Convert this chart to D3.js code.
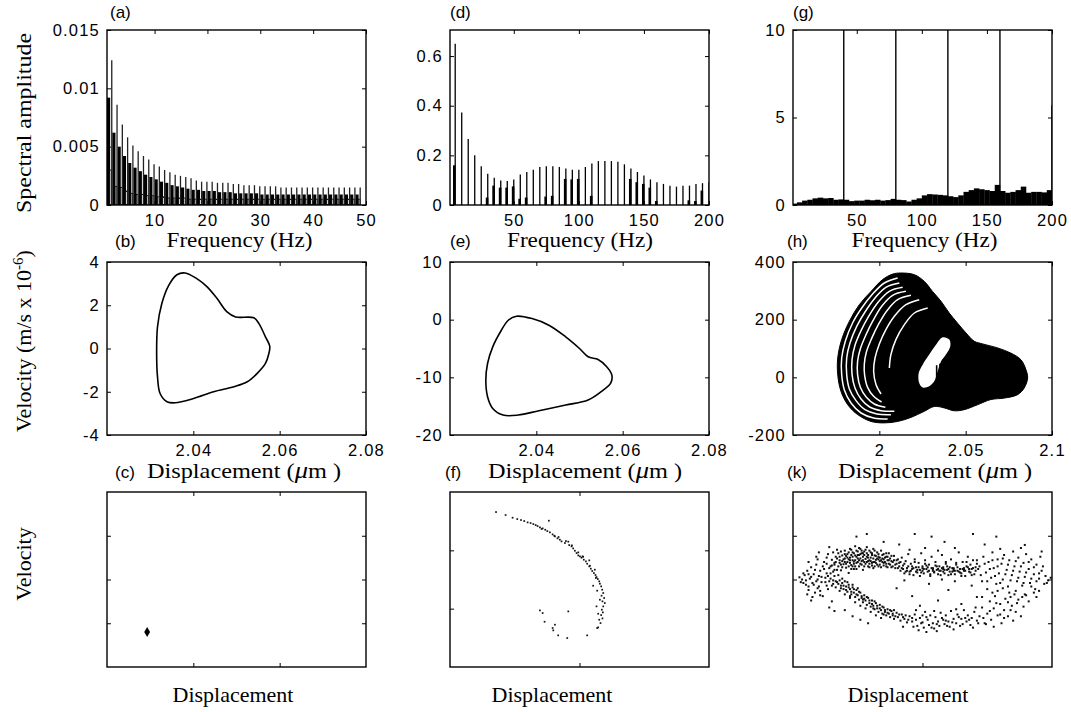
<!DOCTYPE html>
<html>
<head>
<meta charset="utf-8">
<script src="https://cdn.jsdelivr.net/npm/d3@7"></script>
<style>
  body { margin: 0; background: #fff; }
</style>
</head>
<body>
<svg id="fig" width="1071" height="712"></svg>
<script>
// ── Data ─────────────────────────────────────────────────────────────────────

// (a) spectrum, periodic response: harmonic lines, black side bars, low outlined bars
const aHz = [1.9, 2.9, 3.9, 4.9, 5.9, 6.9, 7.9, 8.9, 9.9, 10.9, 11.9, 12.9, 13.9, 14.9, 15.9, 16.9,
  17.9, 18.9, 19.9, 20.9, 21.9, 22.9, 23.9, 24.9, 25.9, 26.9, 27.9, 28.9, 29.9, 30.9, 31.9, 32.9,
  33.9, 34.9, 35.9, 36.9, 37.9, 38.9, 39.9, 40.9, 41.9, 42.9, 43.9, 44.9, 45.9, 46.9, 47.9, 48.9];
const aPeak = [0.0124, 0.0086, 0.0069, 0.0058, 0.0051, 0.0046, 0.0042, 0.0039, 0.0035, 0.0033, 0.0030, 0.0028,
  0.0026, 0.0025, 0.0024, 0.0023, 0.0021, 0.0020, 0.0020, 0.0020, 0.0019, 0.0019, 0.0019, 0.0018,
  0.0018, 0.0017, 0.0017, 0.0017, 0.0016, 0.0016, 0.0016, 0.0016, 0.0015, 0.0015, 0.0015, 0.0015,
  0.0015, 0.0015, 0.0015, 0.0015, 0.0015, 0.0015, 0.0015, 0.0015, 0.0015, 0.0015, 0.0015, 0.0015];
const aMid = [0.0092, 0.0062, 0.0050, 0.0042, 0.0036, 0.0032, 0.0029, 0.0026, 0.0024, 0.0022, 0.0020, 0.0019,
  0.0017, 0.0016, 0.0015, 0.0014, 0.0013, 0.0013, 0.0012, 0.0012, 0.0012, 0.0011, 0.0011, 0.0011,
  0.0010, 0.0010, 0.0010, 0.0010, 0.0010, 0.0009, 0.0009, 0.0009, 0.0009, 0.0009, 0.0009, 0.0009,
  0.0009, 0.0009, 0.0009, 0.0009, 0.0009, 0.0009, 0.0009, 0.0009, 0.0009, 0.0009, 0.0009, 0.0009];
const aLow = [0.0030, 0.0016, 0.0015, 0.0012, 0.0010, 0.0009, 0.0009, 0.0008, 0.0008, 0.0007, 0.0007, 0.0006,
  0.0006, 0.0006, 0.0006, 0.0005, 0.0005, 0.0005, 0.0005, 0.0005, 0.0005, 0.0005, 0.0005, 0.0005,
  0.0005, 0.0005, 0.0005, 0.0005, 0.0005, 0.0005, 0.0005, 0.0005, 0.0005, 0.0005, 0.0005, 0.0005,
  0.0005, 0.0005, 0.0005, 0.0005, 0.0005, 0.0005, 0.0005, 0.0005, 0.0005, 0.0005, 0.0005, 0.0005];

// (d) spectrum, period-doubled response
const dHz = [5, 10, 15, 20, 25, 30, 35, 40, 45, 50, 55, 60, 65, 70, 75, 80, 85, 90, 95, 100,
  105, 110, 115, 120, 125, 130, 135, 140, 145, 150, 155, 160, 165, 170, 175, 180, 185, 190, 195, 200];
const dAmp = [0.650, 0.373, 0.266, 0.200, 0.156, 0.126, 0.110, 0.099, 0.097, 0.103,
  0.123, 0.133, 0.142, 0.153, 0.156, 0.156, 0.153, 0.147, 0.142, 0.142,
  0.153, 0.167, 0.177, 0.177, 0.177, 0.174, 0.164, 0.147, 0.133, 0.119,
  0.103, 0.092, 0.085, 0.078, 0.074, 0.078, 0.078, 0.085, 0.088, 0.092];
const dSideHz = [4.3, 29.5, 34.5, 39.5, 44.5, 49.5, 54.5, 59.5, 74.5, 79.5, 89.5, 94.5, 99.5,
  109.5, 139.5, 144.5, 149.5, 154.5, 159.5, 184.5, 189.5, 194.5];
const dSideAmp = [0.160, 0.030, 0.078, 0.070, 0.070, 0.075, 0.025, 0.030, 0.034, 0.037, 0.105, 0.103, 0.105,
  0.037, 0.105, 0.092, 0.085, 0.070, 0.016, 0.019, 0.016, 0.058];

// (g) spectrum, chaotic response: broadband floor + discrete lines
const gFloorHz = [2, 6, 10, 14, 18, 22, 26, 30, 34, 38, 42, 46, 50, 54, 58, 62, 66, 70, 74, 78,
  82, 86, 90, 94, 98, 102, 106, 110, 114, 118, 122, 126, 130, 134, 138, 142, 146, 150, 154, 158,
  162, 166, 170, 174, 178, 182, 186, 190, 194, 198];
const gFloorAmp = [0.08, 0.15, 0.25, 0.30, 0.38, 0.42, 0.38, 0.40, 0.30, 0.32,
  0.30, 0.22, 0.25, 0.25, 0.30, 0.27, 0.30, 0.25, 0.28, 0.35,
  0.30, 0.28, 0.20, 0.30, 0.38, 0.55, 0.62, 0.60, 0.58, 0.55,
  0.50, 0.45, 0.55, 0.75, 0.85, 0.95, 0.90, 0.85, 0.80, 1.15,
  0.80, 0.70, 0.75, 0.85, 1.05, 0.70, 0.75, 0.75, 0.72, 0.85];
const gLineHz = [40, 80, 120, 160, 200];
const gLineAmp = [12, 12, 12, 12, 5.7];

// (b) phase portrait, displacement (um) / velocity (1e-6 m/s)
const bLoop = [[2.0381, 3.49], [2.0408, 3.23], [2.0432, 2.85], [2.0455, 2.31], [2.0478, 1.69], [2.0498, 1.46],
  [2.0540, 1.42], [2.0552, 1.15], [2.0567, 0.54], [2.0577, 0.11], [2.0575, -0.23], [2.0567, -0.69],
  [2.0548, -1.15], [2.0525, -1.54], [2.0494, -1.77], [2.0447, -2.00], [2.0401, -2.31], [2.0358, -2.51],
  [2.0339, -2.46], [2.0323, -2.08], [2.0317, -1.31], [2.0315, -0.23], [2.0317, 1.00], [2.0327, 2.08],
  [2.0343, 2.92], [2.0362, 3.41]];

// (e) phase portrait
const eLoop = [[2.0354, 0.60], [2.0390, 0.19], [2.0429, -0.96], [2.0468, -2.98], [2.0500, -5.00], [2.0520, -6.44],
  [2.0543, -6.91], [2.0563, -8.17], [2.0575, -9.62], [2.0572, -11.06], [2.0555, -12.21], [2.0520, -13.94],
  [2.0468, -14.81], [2.0406, -15.79], [2.0358, -16.54], [2.0323, -16.54], [2.0299, -15.39], [2.0287, -13.36],
  [2.0283, -10.48], [2.0287, -7.60], [2.0299, -4.71], [2.0319, -1.83], [2.0335, -0.10]];

// (h) chaotic attractor: outer envelope, inner hole, white gaps between orbit bands
const hOutline = [[2.0125, 361.8], [2.0203, 356], [2.0260, 333], [2.0308, 298], [2.0357, 264], [2.0405, 223],
  [2.0453, 188], [2.0502, 154], [2.0550, 125], [2.0598, 116], [2.0685, 102], [2.0762, 84], [2.0820, 61],
  [2.0849, 27], [2.0859, -2], [2.0839, -37], [2.0801, -60], [2.0724, -72], [2.0646, -77], [2.0569, -95],
  [2.0492, -112], [2.0434, -116], [2.0376, -106], [2.0318, -101], [2.0260, -118], [2.0183, -139],
  [2.0106, -153], [2.0029, -158], [1.9952, -153], [1.9874, -129], [1.9817, -95], [1.9778, -49],
  [1.9759, 9], [1.9759, 67], [1.9782, 131], [1.9826, 194], [1.9884, 252], [1.9952, 298], [2.0019, 339],
  [2.0077, 358]];
const hHole = [[2.0367, 139], [2.0405, 131], [2.0411, 108], [2.0386, 79], [2.0357, 55], [2.0338, 21],
  [2.0318, -14], [2.0289, -31], [2.0251, -35], [2.0231, -20], [2.0228, 15], [2.0251, 44], [2.0289, 79],
  [2.0328, 113]];
const hHoleBars = [
  [[2.0332, 42], [2.0332, -25]],
  [[2.0351, 47], [2.0351, -22]]
];
const hGaps = [
  [[2.0106, 344.5], [2.0029, 327.2], [1.9961, 289.0], [1.9898, 240.5], [1.9845, 188.5], [1.9803, 124.9],
    [1.9782, 67.1], [1.9782, 9.3], [1.9797, -42.7], [1.9836, -89.0], [1.9894, -123.7], [1.9967, -141.0], [2.0048, -144.5]],
  [[2.0116, 327.2], [2.0038, 312.1], [1.9975, 275.2], [1.9917, 226.6], [1.9869, 176.9], [1.9830, 119.1],
    [1.9811, 67.1], [1.9811, 9.3], [1.9826, -39.3], [1.9865, -80.9], [1.9917, -112.1], [1.9986, -127.1], [2.0067, -129.4]],
  [[2.0135, 312.1], [2.0058, 298.3], [1.9994, 261.3], [1.9938, 211.6], [1.9894, 161.9], [1.9859, 111.0],
    [1.9842, 61.3], [1.9842, 9.3], [1.9859, -37.0], [1.9894, -75.1], [1.9944, -102.9], [2.0010, -115.6], [2.0087, -117.9]],
  [[2.0154, 298.3], [2.0077, 284.4], [2.0015, 247.4], [1.9963, 196.5], [1.9923, 148.0], [1.9890, 99.4],
    [1.9874, 55.5], [1.9874, 9.3], [1.9890, -34.7], [1.9925, -69.3], [1.9971, -92.5], [2.0035, -104.0]],
  [[2.0183, 284.4], [2.0106, 269.4], [2.0044, 231.2], [1.9994, 182.7], [1.9955, 134.1], [1.9925, 87.9],
    [1.9913, 46.3], [1.9915, 7.0], [1.9932, -34.7], [1.9967, -65.9], [2.0013, -85.5]],
  [[2.0231, 269.4], [2.0154, 252.0], [2.0087, 211.6], [2.0038, 165.3], [2.0000, 115.6], [1.9975, 67.1],
    [1.9967, 20.8], [1.9981, -25.4], [2.0010, -57.8]],
  [[2.0280, 240.5], [2.0203, 223.1], [2.0145, 182.7], [2.0096, 130.7], [2.0067, 78.6], [2.0058, 32.4]]
];

// (c) Poincare section, periodic: a single point
const cPts = [[2.0293, -2.4]];

// (f) Poincare section, period-doubled (arbitrary units)
const fPts = [[0.355, 2.657], [0.429, 2.606], [0.483, 2.560], [0.519, 2.537], [0.548, 2.520], [0.573, 2.503],
  [0.599, 2.480], [0.622, 2.469], [0.643, 2.451], [0.661, 2.434], [0.676, 2.417], [0.694, 2.394],
  [0.715, 2.377], [0.735, 2.354], [0.763, 2.509], [0.751, 2.331], [0.771, 2.309], [0.792, 2.274],
  [0.810, 2.240], [0.830, 2.206], [0.848, 2.183], [0.838, 2.229], [0.861, 2.154], [0.887, 2.126],
  [0.913, 2.149], [0.920, 2.091], [0.938, 2.069], [0.951, 2.034], [0.964, 1.994], [0.977, 1.954],
  [0.990, 1.914], [1.003, 1.897], [1.015, 1.874], [1.028, 1.891], [1.033, 1.840], [1.049, 1.811],
  [1.059, 1.771], [1.075, 1.726], [1.087, 1.686], [1.098, 1.646], [1.111, 1.611], [1.123, 1.577],
  [1.131, 1.543], [1.141, 1.509], [1.152, 1.469], [1.157, 1.429], [1.167, 1.383], [1.175, 1.326],
  [1.183, 1.269], [1.170, 1.223], [1.190, 1.183], [1.177, 1.126], [1.195, 1.097], [1.183, 1.040],
  [1.172, 0.983], [1.180, 0.937], [1.167, 0.891], [1.177, 0.834], [1.152, 0.811], [1.162, 0.754],
  [1.144, 0.680], [1.136, 0.669], [1.105, 1.394], [1.126, 1.526], [1.075, 1.829], [1.023, 1.897],
  [0.990, 1.966], [0.941, 2.086], [0.895, 2.160], [0.805, 2.251], [0.707, 2.366], [0.694, 0.971],
  [0.715, 0.926], [0.730, 0.777], [0.810, 0.726], [0.792, 0.669], [0.797, 0.629], [0.835, 0.543],
  [0.905, 0.497], [1.059, 0.543], [0.913, 0.954], [1.136, 1.309], [1.118, 1.669], [1.080, 1.737],
  [1.157, 1.154], [1.144, 0.914], [1.131, 1.040]];

// (k) Poincare section, chaotic (arbitrary units)
const kPts = [
  // dense upper-left band
  [0.30, 2.45], [0.32, 2.38], [0.33, 2.52], [0.35, 2.30], [0.35, 2.60], [0.36, 2.44], [0.37, 2.21], [0.38, 2.55], [0.39, 2.35], [0.40, 2.66],
  [0.40, 2.48], [0.41, 2.27], [0.42, 2.58], [0.42, 2.40], [0.43, 2.15], [0.44, 2.70], [0.44, 2.50], [0.45, 2.33], [0.46, 2.62], [0.46, 2.44],
  [0.47, 2.24], [0.48, 2.55], [0.48, 2.76], [0.49, 2.38], [0.50, 2.64], [0.50, 2.48], [0.51, 2.30], [0.52, 2.58], [0.52, 2.70], [0.53, 2.42],
  [0.54, 2.52], [0.54, 2.22], [0.55, 2.64], [0.56, 2.36], [0.56, 2.47], [0.57, 2.74], [0.58, 2.56], [0.58, 2.30], [0.59, 2.44], [0.60, 2.62],
  [0.60, 2.50], [0.61, 2.38], [0.62, 2.70], [0.62, 2.26], [0.63, 2.55], [0.64, 2.45], [0.65, 2.62], [0.65, 2.34], [0.66, 2.52], [0.67, 2.42],
  [0.68, 2.66], [0.68, 2.28], [0.69, 2.48], [0.70, 2.58], [0.70, 2.38], [0.71, 2.50], [0.72, 2.30], [0.73, 2.44], [0.74, 2.60], [0.74, 2.36],
  [0.75, 2.48], [0.76, 2.28], [0.77, 2.40], [0.78, 2.54], [0.79, 2.34], [0.80, 2.44], [0.81, 2.26], [0.82, 2.38], [0.34, 2.48], [0.38, 2.42],
  [0.41, 2.54], [0.43, 2.46], [0.45, 2.56], [0.47, 2.41], [0.49, 2.52], [0.51, 2.44], [0.53, 2.60], [0.55, 2.40], [0.57, 2.52], [0.59, 2.36],
  [0.61, 2.56], [0.63, 2.40], [0.66, 2.46], [0.69, 2.40], [0.72, 2.52], [0.76, 2.42], [0.44, 2.38], [0.48, 2.30], [0.52, 2.36], [0.58, 2.42],
  [0.26, 2.36], [0.27, 2.58], [0.29, 2.30], [0.31, 2.62], [0.32, 2.22], [0.33, 2.40], [0.34, 2.68], [0.36, 2.52], [0.37, 2.34], [0.37, 2.64],
  [0.38, 2.28], [0.39, 2.46], [0.40, 2.58], [0.41, 2.36], [0.42, 2.50], [0.43, 2.30], [0.43, 2.62], [0.44, 2.44], [0.45, 2.24], [0.45, 2.68],
  [0.46, 2.52], [0.47, 2.36], [0.47, 2.60], [0.48, 2.44], [0.49, 2.24], [0.49, 2.66], [0.50, 2.40], [0.51, 2.56], [0.51, 2.72], [0.52, 2.48],
  [0.53, 2.34], [0.53, 2.66], [0.54, 2.44], [0.55, 2.56], [0.55, 2.30], [0.56, 2.68], [0.57, 2.40], [0.57, 2.60], [0.58, 2.50], [0.59, 2.28],
  [0.59, 2.66], [0.60, 2.42], [0.61, 2.60], [0.61, 2.32], [0.62, 2.48], [0.63, 2.66], [0.63, 2.30], [0.64, 2.54], [0.64, 2.38], [0.65, 2.48],
  [0.66, 2.30], [0.66, 2.58], [0.67, 2.50], [0.67, 2.34], [0.68, 2.44], [0.69, 2.56], [0.70, 2.32], [0.70, 2.46], [0.71, 2.40], [0.72, 2.60],
  [0.72, 2.36], [0.73, 2.28], [0.73, 2.52], [0.74, 2.44], [0.75, 2.34], [0.76, 2.54], [0.77, 2.30], [0.78, 2.44], [0.79, 2.26], [0.80, 2.36],
  [0.81, 2.46], [0.82, 2.30], [0.83, 2.40], [0.84, 2.26], [0.36, 2.38], [0.40, 2.40], [0.46, 2.30], [0.50, 2.56], [0.54, 2.60], [0.62, 2.40],
  // left end
  [0.07, 2.00], [0.09, 2.10], [0.10, 1.88], [0.11, 2.20], [0.12, 1.76], [0.13, 2.02], [0.14, 2.28], [0.15, 1.92], [0.16, 2.12], [0.17, 1.70],
  [0.18, 2.34], [0.19, 2.00], [0.20, 1.84], [0.21, 2.20], [0.22, 2.06], [0.23, 1.62], [0.24, 2.40], [0.25, 1.94], [0.26, 2.14], [0.27, 1.78],
  [0.28, 2.26], [0.29, 2.02], [0.30, 1.86], [0.31, 2.18], [0.32, 2.08], [0.33, 1.96], [0.34, 2.22], [0.35, 2.10], [0.12, 2.12], [0.15, 1.60],
  [0.18, 1.96], [0.21, 1.74], [0.24, 2.24], [0.27, 2.08], [0.30, 2.32], [0.08, 1.92], [0.05, 2.05], [0.19, 2.46], [0.26, 2.50], [0.14, 1.52],
  [0.08, 2.14], [0.10, 1.98], [0.12, 1.84], [0.14, 2.06], [0.16, 1.88], [0.17, 2.22], [0.19, 1.80], [0.20, 2.08], [0.22, 1.94], [0.23, 2.30],
  [0.25, 2.04], [0.26, 1.86], [0.28, 1.96], [0.29, 2.14], [0.31, 1.90], [0.32, 2.34], [0.06, 1.94], [0.11, 1.66], [0.21, 1.64], [0.18, 2.52],
  // lower arm
  [0.36, 1.98], [0.37, 1.86], [0.38, 1.92], [0.39, 1.78], [0.40, 1.96], [0.41, 1.84], [0.42, 1.72], [0.43, 1.88], [0.44, 1.78], [0.45, 1.66],
  [0.46, 1.82], [0.47, 1.70], [0.48, 1.60], [0.49, 1.76], [0.50, 1.64], [0.51, 1.54], [0.52, 1.70], [0.53, 1.58], [0.54, 1.48], [0.55, 1.64],
  [0.56, 1.52], [0.57, 1.42], [0.58, 1.58], [0.59, 1.46], [0.60, 1.38], [0.61, 1.52], [0.62, 1.40], [0.63, 1.32], [0.64, 1.46], [0.65, 1.34],
  [0.66, 1.26], [0.67, 1.42], [0.68, 1.30], [0.69, 1.22], [0.70, 1.36], [0.71, 1.26], [0.72, 1.18], [0.73, 1.32], [0.74, 1.22], [0.75, 1.14],
  [0.76, 1.28], [0.77, 1.18], [0.78, 1.10], [0.80, 1.24], [0.81, 1.14], [0.83, 1.06], [0.84, 1.20], [0.86, 1.10], [0.88, 1.02], [0.90, 1.16],
  [0.40, 1.66], [0.44, 1.58], [0.48, 1.48], [0.52, 1.40], [0.56, 1.34], [0.60, 1.26], [0.64, 1.18], [0.68, 1.12], [0.36, 1.74], [0.33, 1.82],
  [0.30, 1.50], [0.28, 1.36], [0.32, 1.28], [0.40, 1.30], [0.46, 1.16], [0.52, 1.08], [0.58, 1.00],
  [0.35, 1.90], [0.37, 1.80], [0.39, 1.86], [0.41, 1.76], [0.43, 1.82], [0.45, 1.72], [0.47, 1.78], [0.49, 1.66], [0.51, 1.72], [0.53, 1.62],
  [0.55, 1.56], [0.57, 1.60], [0.59, 1.52], [0.61, 1.44], [0.63, 1.50], [0.65, 1.40], [0.67, 1.34], [0.69, 1.38], [0.71, 1.30], [0.73, 1.24],
  [0.75, 1.30], [0.77, 1.22], [0.79, 1.16], [0.82, 1.20], [0.85, 1.14], [0.87, 1.18], [0.89, 1.08], [0.42, 1.94], [0.46, 1.88], [0.50, 1.80],
  [0.38, 2.02], [0.34, 1.94], [0.31, 1.98], [0.44, 1.62], [0.54, 1.54], [0.62, 1.34], [0.70, 1.20], [0.78, 1.30], [0.92, 1.12], [0.95, 1.08],
  // bottom
  [0.92, 1.04], [0.94, 1.20], [0.96, 0.94], [0.98, 1.12], [1.00, 1.02], [1.01, 0.90], [1.02, 1.26], [1.04, 1.08], [1.05, 0.96], [1.06, 1.18],
  [1.08, 1.00], [1.09, 0.88], [1.10, 1.14], [1.12, 1.04], [1.13, 0.94], [1.14, 1.24], [1.16, 1.08], [1.17, 0.98], [1.18, 1.18], [1.20, 1.04],
  [1.21, 0.92], [1.22, 1.28], [1.24, 1.10], [1.26, 1.00], [1.27, 1.20], [1.29, 0.94], [1.30, 1.10], [1.32, 1.30], [1.34, 1.04], [1.35, 1.18],
  [1.37, 0.96], [1.38, 1.12], [1.40, 1.26], [1.42, 1.06], [1.44, 1.16], [0.97, 0.84], [1.03, 0.80], [1.11, 0.82], [0.85, 0.92], [1.24, 0.86],
  [0.93, 0.92], [0.99, 1.00], [1.03, 1.14], [1.07, 0.90], [1.11, 0.98], [1.15, 1.12], [1.19, 0.94], [1.23, 1.02], [1.28, 1.14], [1.31, 0.98],
  [1.36, 1.08], [1.39, 0.90], [1.43, 1.00], [0.95, 1.30], [1.09, 1.28], [1.26, 1.32], [1.41, 1.36], [1.00, 1.18], [1.18, 1.06], [1.33, 1.12],
  // lower right
  [1.46, 1.36], [1.48, 1.00], [1.50, 1.22], [1.52, 1.50], [1.53, 1.08], [1.55, 1.34], [1.56, 1.62], [1.58, 1.18], [1.60, 1.44], [1.61, 1.00],
  [1.63, 1.30], [1.64, 1.56], [1.66, 1.16], [1.67, 1.70], [1.69, 1.40], [1.70, 1.06], [1.72, 1.26], [1.74, 1.54], [1.76, 1.16], [1.78, 1.38],
  [1.80, 1.64], [1.62, 1.80], [1.55, 0.92], [1.49, 0.98], [1.58, 1.74],
  [1.46, 1.60], [1.52, 1.28], [1.57, 1.46], [1.63, 1.12], [1.68, 1.30], [1.73, 1.46], [1.77, 1.60], [1.82, 1.50], [1.84, 1.84], [1.88, 1.60],
  [1.47, 1.12], [1.54, 1.70], [1.60, 1.20], [1.66, 1.48], [1.71, 1.66],
  // right
  [1.44, 2.30], [1.46, 1.96], [1.47, 2.52], [1.49, 2.16], [1.50, 1.78], [1.51, 2.40], [1.53, 2.04], [1.54, 2.62], [1.55, 2.26], [1.57, 1.90],
  [1.58, 2.46], [1.59, 2.14], [1.61, 2.36], [1.62, 2.00], [1.63, 2.56], [1.65, 2.22], [1.66, 1.84], [1.67, 2.44], [1.69, 2.10], [1.70, 2.64],
  [1.71, 2.30], [1.73, 1.96], [1.74, 2.50], [1.75, 2.18], [1.77, 1.86], [1.78, 2.38], [1.79, 2.06], [1.80, 2.58], [1.82, 2.24], [1.83, 1.92],
  [1.84, 2.46], [1.86, 2.12], [1.87, 1.78], [1.88, 2.34], [1.90, 2.02], [1.91, 2.52], [1.92, 2.20], [1.94, 1.90], [1.95, 2.08], [1.97, 1.98],
  [1.86, 1.70], [1.90, 1.74], [1.79, 1.66], [1.72, 1.74], [1.68, 1.60], [1.99, 2.04], [1.60, 2.70], [1.76, 2.72], [1.92, 2.64],
  [1.45, 2.10], [1.48, 2.36], [1.50, 1.96], [1.52, 2.24], [1.54, 2.44], [1.56, 2.08], [1.58, 2.30], [1.60, 1.92], [1.62, 2.48], [1.64, 2.12],
  [1.66, 2.34], [1.68, 1.98], [1.70, 2.20], [1.72, 2.42], [1.74, 2.04], [1.76, 2.30], [1.78, 1.92], [1.80, 2.16], [1.82, 2.40], [1.84, 2.02],
  [1.86, 2.28], [1.88, 1.96], [1.90, 2.14], [1.93, 2.30], [1.96, 1.92],
  // central upper band
  [0.83, 2.20], [0.84, 2.50], [0.85, 2.32], [0.86, 2.14], [0.87, 2.42], [0.88, 2.26], [0.89, 2.58], [0.90, 2.18], [0.91, 2.36], [0.92, 2.24],
  [0.93, 2.10], [0.94, 2.46], [0.95, 2.28], [0.96, 2.16], [0.97, 2.38], [0.98, 2.22], [0.99, 2.60], [1.00, 2.30], [1.01, 2.14], [1.02, 2.44],
  [1.03, 2.24], [1.04, 2.18], [1.05, 2.34], [1.06, 2.08], [1.07, 2.52], [1.08, 2.26], [1.09, 2.16], [1.10, 2.40], [1.11, 2.22], [1.12, 2.12],
  [1.13, 2.30], [1.14, 2.20], [1.15, 2.56], [1.16, 2.24], [1.17, 2.14], [1.18, 2.36], [1.19, 2.22], [1.20, 2.10], [1.21, 2.28], [1.22, 2.46],
  [1.23, 2.18], [1.24, 2.26], [1.25, 2.12], [1.26, 2.34], [1.27, 2.20], [1.28, 2.62], [1.29, 2.24], [1.30, 2.14], [1.31, 2.40], [1.32, 2.22],
  [1.33, 2.08], [1.34, 2.30], [1.35, 2.52], [1.36, 2.18], [1.37, 2.34], [1.38, 2.24], [1.39, 2.44], [1.40, 2.12], [1.41, 2.28], [1.42, 2.36],
  [0.88, 2.20], [0.92, 2.30], [0.96, 2.22], [1.00, 2.20], [1.04, 2.28], [1.08, 2.20], [1.12, 2.24], [1.16, 2.18], [1.20, 2.24], [1.24, 2.20],
  [1.28, 2.18], [1.32, 2.26], [1.36, 2.24], [0.90, 2.68], [1.02, 2.72], [1.12, 2.66], [1.25, 2.72],
  [0.85, 2.24], [0.87, 2.18], [0.89, 2.30], [0.91, 2.20], [0.93, 2.26], [0.95, 2.18], [0.97, 2.28], [0.99, 2.16], [1.01, 2.24], [1.03, 2.32],
  [1.05, 2.20], [1.07, 2.26], [1.09, 2.18], [1.11, 2.30], [1.13, 2.20], [1.15, 2.26], [1.17, 2.22], [1.19, 2.30], [1.21, 2.18], [1.23, 2.26],
  [1.25, 2.20], [1.27, 2.28], [1.29, 2.16], [1.31, 2.24], [1.33, 2.20], [1.35, 2.28], [1.37, 2.16], [1.39, 2.26], [1.41, 2.20], [1.43, 2.24],
  [0.86, 2.36], [0.94, 2.40], [1.02, 2.36], [1.10, 2.32], [1.18, 2.40], [1.26, 2.38], [1.34, 2.40], [1.42, 2.44], [0.90, 2.12], [0.98, 2.08],
  [1.06, 2.12], [1.14, 2.10], [1.22, 2.12], [1.30, 2.08], [1.38, 2.10], [1.00, 2.26], [1.08, 2.24], [1.16, 2.28], [1.24, 2.24], [1.32, 2.20],
  // sparse interior
  [0.80, 1.80], [0.92, 1.62], [1.05, 1.90], [1.12, 1.52], [1.20, 1.76], [1.30, 1.44], [1.38, 1.86], [0.98, 1.40], [1.25, 1.96], [1.42, 1.60],
  [0.86, 1.98], [1.15, 2.00],
  // outliers
  [0.49, 2.98], [0.57, 3.04], [0.94, 3.04], [1.07, 2.98], [1.39, 3.04], [1.57, 2.98], [1.79, 2.79], [0.28, 2.74], [0.70, 2.86], [0.82, 2.80],
  [1.17, 2.86], [1.48, 2.80], [0.20, 2.62], [0.12, 2.40]
];

// ── Layout ───────────────────────────────────────────────────────────────────

const SANS = "'Liberation Sans', Arial, Helvetica, sans-serif";
const SERIF = "'Liberation Serif', 'Times New Roman', Times, serif";

const colLeft = [107, 450, 793];
const colW = 259;
const rowTop = [30, 262, 492];
const rowH = [175, 173, 175];

const svg = d3.select("#fig");
svg.append("rect").attr("width", 1071).attr("height", 712).attr("fill", "#fff");

let clipCount = 0;

function makePanel(cfg) {
  const h = rowH[cfg.row];
  const x = d3.scaleLinear().domain(cfg.xDomain).range([0, colW]);
  const y = d3.scaleLinear().domain(cfg.yDomain).range([h, 0]);
  const g = svg.append("g").attr("transform", `translate(${colLeft[cfg.col]},${rowTop[cfg.row]})`);

  const id = "clip" + (clipCount++);
  g.append("clipPath").attr("id", id)
    .append("rect").attr("width", colW).attr("height", h);
  const plot = g.append("g").attr("clip-path", `url(#${id})`);

  const blank = () => "";
  const styleAxis = (sel) => {
    sel.select(".domain").remove();
    sel.attr("font-family", SANS).attr("font-size", 16.5).attr("letter-spacing", 1.2);
    sel.selectAll(".tick line").attr("stroke", "#000").attr("stroke-width", 1);
  };

  g.append("g").attr("transform", `translate(0,${h})`)
    .call(d3.axisBottom(x).tickValues(cfg.xTicks).tickSizeInner(-4).tickSizeOuter(0)
      .tickPadding(9).tickFormat(cfg.xLabels ? (d) => String(d) : blank))
    .call(styleAxis);
  g.append("g")
    .call(d3.axisTop(x).tickValues(cfg.xTicks).tickSizeInner(-4).tickSizeOuter(0).tickFormat(blank))
    .call(styleAxis);
  g.append("g")
    .call(d3.axisLeft(y).tickValues(cfg.yTicks).tickSizeInner(-4).tickSizeOuter(0)
      .tickPadding(7).tickFormat(cfg.yLabels ? (d) => String(d) : blank))
    .call(styleAxis);
  g.append("g").attr("transform", `translate(${colW},0)`)
    .call(d3.axisRight(y).tickValues(cfg.yTicks).tickSizeInner(-4).tickSizeOuter(0).tickFormat(blank))
    .call(styleAxis);

  g.append("rect").attr("width", colW).attr("height", h)
    .attr("fill", "none").attr("stroke", "#000").attr("stroke-width", 1.4);

  return { g, plot, x, y, h };
}

// ── Row 1: spectra ───────────────────────────────────────────────────────────

const pa = makePanel({ col: 0, row: 0, xDomain: [1, 50], yDomain: [0, 0.015],
  xTicks: [10, 20, 30, 40, 50], yTicks: [0, 0.005, 0.01, 0.015], xLabels: true, yLabels: true });

pa.plot.selectAll(".mid").data(aHz).join("rect")
  .attr("x", (d) => pa.x(d - 0.9))
  .attr("width", (d) => pa.x(d - 0.3) - pa.x(d - 0.9))
  .attr("y", (d, i) => pa.y(aMid[i]))
  .attr("height", (d, i) => pa.y(0) - pa.y(aMid[i]))
  .attr("fill", "#000");
pa.plot.selectAll(".low").data(aHz).join("rect")
  .attr("x", (d) => pa.x(d - 0.35))
  .attr("width", (d) => pa.x(d - 0.02) - pa.x(d - 0.35))
  .attr("y", (d, i) => pa.y(aLow[i]))
  .attr("height", (d, i) => pa.y(0) - pa.y(aLow[i]))
  .attr("fill", "#fff").attr("stroke", "#000").attr("stroke-width", 0.8);
pa.plot.selectAll(".peak").data(aHz).join("line")
  .attr("x1", (d) => pa.x(d)).attr("x2", (d) => pa.x(d))
  .attr("y1", pa.y(0)).attr("y2", (d, i) => pa.y(aPeak[i]))
  .attr("stroke", "#222").attr("stroke-width", 1.3);

const pd = makePanel({ col: 1, row: 0, xDomain: [1, 200], yDomain: [0, 0.705],
  xTicks: [50, 100, 150, 200], yTicks: [0, 0.2, 0.4, 0.6], xLabels: true, yLabels: true });

pd.plot.selectAll(".side").data(dSideHz).join("rect")
  .attr("x", (d) => pd.x(d - 1))
  .attr("width", (d) => pd.x(d + 1) - pd.x(d - 1))
  .attr("y", (d, i) => pd.y(dSideAmp[i]))
  .attr("height", (d, i) => pd.y(0) - pd.y(dSideAmp[i]))
  .attr("fill", "#000");
pd.plot.selectAll(".line").data(dHz).join("line")
  .attr("x1", (d) => pd.x(d)).attr("x2", (d) => pd.x(d))
  .attr("y1", pd.y(0)).attr("y2", (d, i) => pd.y(dAmp[i]))
  .attr("stroke", "#000").attr("stroke-width", 1.3);

const pg = makePanel({ col: 2, row: 0, xDomain: [1, 200], yDomain: [0, 10],
  xTicks: [50, 100, 150, 200], yTicks: [0, 5, 10], xLabels: true, yLabels: true });

pg.plot.selectAll(".floor").data(gFloorHz).join("rect")
  .attr("x", (d) => pg.x(d - 2))
  .attr("width", (d) => pg.x(d + 2) - pg.x(d - 2) + 0.3)
  .attr("y", (d, i) => pg.y(gFloorAmp[i]))
  .attr("height", (d, i) => pg.y(0) - pg.y(gFloorAmp[i]))
  .attr("fill", "#000");
pg.plot.selectAll(".line").data(gLineHz).join("line")
  .attr("x1", (d) => pg.x(d)).attr("x2", (d) => pg.x(d))
  .attr("y1", pg.y(0)).attr("y2", (d, i) => pg.y(gLineAmp[i]))
  .attr("stroke", "#000").attr("stroke-width", 1.4);

// ── Row 2: phase portraits ───────────────────────────────────────────────────

const pb = makePanel({ col: 0, row: 1, xDomain: [2.02, 2.08], yDomain: [-4, 4],
  xTicks: [2.04, 2.06, 2.08], yTicks: [-4, -2, 0, 2, 4], xLabels: true, yLabels: true });
pb.plot.append("path").datum(bLoop)
  .attr("d", d3.line().x((d) => pb.x(d[0])).y((d) => pb.y(d[1])).curve(d3.curveCatmullRomClosed))
  .attr("fill", "none").attr("stroke", "#000").attr("stroke-width", 1.6);

const pe = makePanel({ col: 1, row: 1, xDomain: [2.02, 2.08], yDomain: [-20, 10],
  xTicks: [2.04, 2.06, 2.08], yTicks: [-20, -10, 0, 10], xLabels: true, yLabels: true });
pe.plot.append("path").datum(eLoop)
  .attr("d", d3.line().x((d) => pe.x(d[0])).y((d) => pe.y(d[1])).curve(d3.curveCatmullRomClosed))
  .attr("fill", "none").attr("stroke", "#000").attr("stroke-width", 1.6);

const ph = makePanel({ col: 2, row: 1, xDomain: [1.95, 2.1], yDomain: [-200, 400],
  xTicks: [2, 2.05, 2.1], yTicks: [-200, 0, 200, 400], xLabels: true, yLabels: true });
ph.plot.append("path").datum(hOutline)
  .attr("d", d3.line().x((d) => ph.x(d[0])).y((d) => ph.y(d[1])).curve(d3.curveCatmullRomClosed))
  .attr("fill", "#000").attr("stroke", "#000").attr("stroke-width", 1);
ph.plot.selectAll(".gap").data(hGaps).join("path")
  .attr("d", d3.line().x((d) => ph.x(d[0])).y((d) => ph.y(d[1])).curve(d3.curveCatmullRom))
  .attr("fill", "none").attr("stroke", "#fff").attr("stroke-width", 1.5);
ph.plot.append("path").datum(hHole)
  .attr("d", d3.line().x((d) => ph.x(d[0])).y((d) => ph.y(d[1])).curve(d3.curveCatmullRomClosed))
  .attr("fill", "#fff");
ph.plot.selectAll(".holebar").data(hHoleBars).join("path")
  .attr("d", d3.line().x((d) => ph.x(d[0])).y((d) => ph.y(d[1])))
  .attr("fill", "none").attr("stroke", "#000").attr("stroke-width", 1.6);

// ── Row 3: Poincare sections ─────────────────────────────────────────────────

const pc = makePanel({ col: 0, row: 2, xDomain: [2.02, 2.08], yDomain: [-4, 4],
  xTicks: [2.04, 2.06], yTicks: [-2, 0, 2], xLabels: false, yLabels: false });
pc.plot.selectAll(".pt").data(cPts).join("path")
  .attr("transform", (d) => `translate(${pc.x(d[0])},${pc.y(d[1])})`)
  .attr("d", d3.symbol(d3.symbolDiamond, 30))
  .attr("fill", "#000");

const pf = makePanel({ col: 1, row: 2, xDomain: [0, 2], yDomain: [0, 3],
  xTicks: [1], yTicks: [1, 2], xLabels: false, yLabels: false });
pf.plot.selectAll(".pt").data(fPts).join("rect")
  .attr("x", (d) => pf.x(d[0]) - 0.8).attr("y", (d) => pf.y(d[1]) - 0.8)
  .attr("width", 1.7).attr("height", 1.7).attr("fill", "#111");

const pk = makePanel({ col: 2, row: 2, xDomain: [0, 2], yDomain: [0, 4],
  xTicks: [1], yTicks: [1, 2, 3], xLabels: false, yLabels: false });
pk.plot.selectAll(".pt").data(kPts).join("rect")
  .attr("x", (d) => pk.x(d[0]) - 1).attr("y", (d) => pk.y(d[1]) - 1)
  .attr("width", 2).attr("height", 2).attr("fill", "#111");

// ── Labels ───────────────────────────────────────────────────────────────────

const letters = [["(a)", 110, 18], ["(d)", 450, 18], ["(g)", 793, 18],
  ["(b)", 115, 247], ["(e)", 450, 247], ["(h)", 787, 247],
  ["(c)", 115, 478], ["(f)", 445, 478], ["(k)", 787, 478]];
svg.selectAll(".letter").data(letters).join("text")
  .attr("x", (d) => d[1]).attr("y", (d) => d[2])
  .attr("font-family", SANS).attr("font-size", 17)
  .text((d) => d[0]);

[239.5, 580, 924.5].forEach((cx) => {
  svg.append("text").attr("x", cx).attr("y", 247).attr("text-anchor", "middle")
    .attr("font-family", SERIF).attr("font-size", 22)
    .attr("textLength", 146).attr("lengthAdjust", "spacingAndGlyphs")
    .text("Frequency (Hz)");
});

[147, 488, 838].forEach((sx) => {
  const t = svg.append("text").attr("x", sx).attr("y", 478)
    .attr("font-family", SERIF).attr("font-size", 22);
  t.append("tspan").text("Displacement (");
  t.append("tspan").attr("font-style", "italic").attr("font-size", 24).text("\u03bc");
  t.append("tspan").text("m )");
  t.attr("textLength", 194).attr("lengthAdjust", "spacingAndGlyphs");
});

[233, 552, 908].forEach((cx) => {
  svg.append("text").attr("x", cx).attr("y", 702).attr("text-anchor", "middle")
    .attr("font-family", SERIF).attr("font-size", 22)
    .attr("textLength", 121).attr("lengthAdjust", "spacingAndGlyphs")
    .text("Displacement");
});

svg.append("text").attr("transform", "translate(31,123) rotate(-90)")
  .attr("text-anchor", "middle").attr("font-family", SERIF).attr("font-size", 22)
  .attr("textLength", 180).attr("lengthAdjust", "spacingAndGlyphs")
  .text("Spectral amplitude");

const vel = svg.append("text").attr("transform", "translate(31,341) rotate(-90)")
  .attr("text-anchor", "middle").attr("font-family", SERIF).attr("font-size", 22);
vel.append("tspan").text("Velocity (m/s x 10");
vel.append("tspan").attr("font-size", 15).attr("dy", -8).text("-6");
vel.append("tspan").attr("dy", 8).text(")");

svg.append("text").attr("transform", "translate(31,564) rotate(-90)")
  .attr("text-anchor", "middle").attr("font-family", SERIF).attr("font-size", 22)
  .text("Velocity");
</script>
</body>
</html>
